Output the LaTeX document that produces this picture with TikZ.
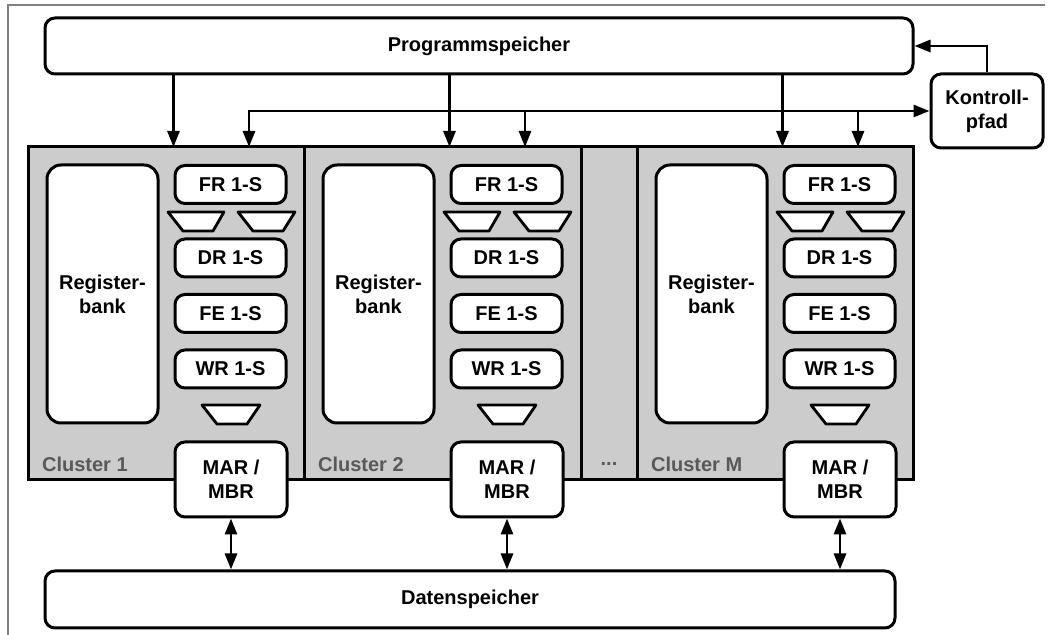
\documentclass[tikz,border=0pt]{standalone}
\usepackage{fontspec}
\setmainfont{Liberation Sans}
\usetikzlibrary{arrows.meta}

\tikzset{
  unit/.style={draw,line width=1.5pt,rounded corners=5pt,fill=white,align=center,
    inner sep=0pt,font=\bfseries\fontsize{10}{12}\selectfont},
  stage/.style={unit,minimum width=55.5pt,minimum height=19pt},
  mux/.style={draw,line width=1.4pt,fill=white,line join=round},
  bus/.style={line width=1.4pt,-{Triangle[length=8pt,width=6pt]}},
  dbus/.style={line width=1.4pt,{Triangle[length=8pt,width=6pt]}-{Triangle[length=8pt,width=6pt]}},
}

\begin{document}
\begin{tikzpicture}[x=0.5pt,y=-0.5pt]
  \useasboundingbox (0,0) rectangle (1051,635);
  \draw[gray,line width=0.8pt] (8,635) -- (8,5) -- (1045,5);

  % memories and control
  \node[unit,minimum width=434pt,minimum height=28pt] (prog) at (479,46) {Programmspeicher};
  \node[unit,minimum width=425pt,minimum height=28.5pt] (dat) at (470,599.5) {Datenspeicher};
  \node[unit,minimum width=56pt,minimum height=37pt] (kp) at (987,111) {Kontroll-\\pfad};
  \coordinate (ctop) at (28,147);

  % cluster frame
  \fill[black!20] (28,147) rectangle (913,480);
  \draw[line width=1.5pt] (28,147) rectangle (913,480);
  \draw[line width=1.5pt] (304,147) -- (304,480) (581,147) -- (581,480) (637,147) -- (637,480);
  \node[font=\bfseries\fontsize{10}{12}\selectfont,text=black!65] (dots) at (609,464) {...};

  \foreach \c/\dx in {1/0,2/276,M/609}{
    \begin{scope}[shift={(\dx,0)}]
      \node[unit,rounded corners=7pt,minimum width=55.5pt,minimum height=129pt] (rb\c) at (102.5,294) {Register-\\bank};
      \node[stage] (fr\c) at (230.5,184.5) {FR 1-S};
      \node[stage] (dr\c) at (230.5,258) {DR 1-S};
      \node[stage] (fe\c) at (230.5,313.5) {FE 1-S};
      \node[stage] (wr\c) at (230.5,369) {WR 1-S};
      \draw[mux] (168,212) -- (224,212) -- (213,231) -- (183,231) -- cycle;
      \draw[mux] (238,212) -- (295,212) -- (283,231) -- (253,231) -- cycle;
      \draw[mux] (202,405) -- (260,405) -- (247,424) -- (217,424) -- cycle;
      \node[unit,minimum width=56pt,minimum height=37.5pt] (mar\c) at (231,479.5) {MAR /\\MBR};
      \node[anchor=west,text=black!65,font=\bfseries\fontsize{10}{12}\selectfont] (cl\c) at (35,464) {Cluster \c};
      \coordinate (cx\c) at (249,111);
    \end{scope}
    \draw[bus] (prog.south -| fr\c.west) -- (ctop -| fr\c.west);
    \draw[dbus] (mar\c.south) -- (mar\c.south |- dat.north);
  }

  % control path
  \draw[dbus] (kp.west) -| (cx1 |- ctop);
  \draw[bus] (cx2) -- (cx2 |- ctop);
  \draw[bus] (cxM) -- (cxM |- ctop);
  \draw[bus] (kp.north) |- (prog.east);
\end{tikzpicture}
\end{document}
